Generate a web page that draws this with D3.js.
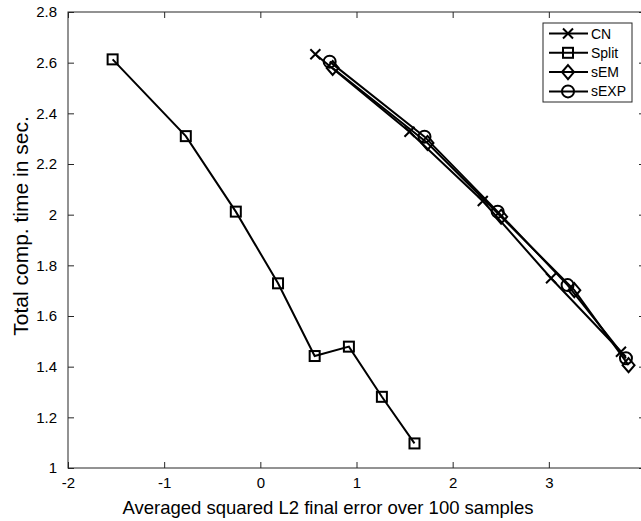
<!DOCTYPE html>
<html>
<head>
<meta charset="utf-8">
<script src="https://cdn.jsdelivr.net/npm/d3@7"></script>
<style>
  body { margin: 0; background: #fff; }
  svg text { font-family: "Liberation Sans", Arial, sans-serif; }
</style>
</head>
<body>
<div id="chart"></div>
<script>
// values
var seriesNames = ["CN", "Split", "sEM", "sEXP"];
var cnX = [0.572, 1.551, 2.313, 3.023, 3.750];
var cnY = [2.633, 2.327, 2.054, 1.749, 1.459];
var splitX = [-1.536, -0.775, -0.255, 0.184, 0.565, 0.921, 1.264, 1.603];
var splitY = [2.613, 2.310, 2.012, 1.729, 1.442, 1.479, 1.281, 1.097];
var semX = [0.752, 1.738, 2.504, 3.265, 3.829];
var semY = [2.579, 2.283, 1.992, 1.702, 1.406];
var sexpX = [0.721, 1.707, 2.468, 3.195, 3.802];
var sexpY = [2.604, 2.308, 2.012, 1.722, 1.433];
var xTicks = [-2, -1, 0, 1, 2, 3, 4];
var yTicks = [1, 1.2, 1.4, 1.6, 1.8, 2, 2.2, 2.4, 2.6, 2.8];

var W = 641, H = 521;
var margin = {top: 12, left: 68, right: -4, bottom: 53};
var pw = W - margin.left - margin.right,
    ph = H - margin.top - margin.bottom;

var svg = d3.select("#chart").append("svg")
    .attr("width", W).attr("height", H);

var x = d3.scaleLinear().domain([-2, 4]).range([0, pw]);
var y = d3.scaleLinear().domain([1, 2.8]).range([ph, 0]);

var g = svg.append("g")
    .attr("transform", "translate(" + margin.left + "," + margin.top + ")");

function zip(xs, ys) { return xs.map(function(v, i) { return [v, ys[i]]; }); }
var markers = ["x", "square", "diamond", "circle"];
var series = [zip(cnX, cnY), zip(splitX, splitY), zip(semX, semY), zip(sexpX, sexpY)]
  .map(function(pts, i) { return {name: seriesNames[i], marker: markers[i], pts: pts}; });

// axes box, ticks inward on all 4 sides like matlab
var axisColor = "#262626";
var tl = 6;
function fmt(d) { return String(d); }
function styleAxis(sel) {
  sel.select(".domain").remove();
  sel.selectAll("line").attr("stroke", axisColor);
  sel.selectAll("text").attr("fill", "#000").style("font-size", "15px");
}
g.append("g").attr("transform", "translate(0," + ph + ")")
  .call(d3.axisBottom(x).tickValues(xTicks).tickSizeInner(-tl).tickSizeOuter(0).tickPadding(9).tickFormat(fmt))
  .call(styleAxis);
g.append("g")
  .call(d3.axisTop(x).tickValues(xTicks).tickSizeInner(-tl).tickSizeOuter(0).tickFormat(""))
  .call(styleAxis);
g.append("g")
  .call(d3.axisLeft(y).tickValues(yTicks).tickSizeInner(-tl).tickSizeOuter(0).tickPadding(11).tickFormat(fmt))
  .call(styleAxis);
g.append("g").attr("transform", "translate(" + pw + ",0)")
  .call(d3.axisRight(y).tickValues(yTicks).tickSizeInner(-tl).tickSizeOuter(0).tickFormat(""))
  .call(styleAxis);
g.append("rect").attr("width", pw).attr("height", ph)
  .attr("fill", "none").attr("stroke", axisColor).attr("stroke-width", 1);

var line = d3.line().x(function(d) { return x(d[0]); }).y(function(d) { return y(d[1]); });

function drawMarker(sel, type) {
  if (type === "x") {
    sel.append("path").attr("d", "M-5,-5L5,5M-5,5L5,-5");
  } else if (type === "square") {
    sel.append("rect").attr("x", -5).attr("y", -5).attr("width", 10).attr("height", 10);
  } else if (type === "diamond") {
    sel.append("path").attr("d", "M0,-7L6,0L0,7L-6,0Z");
  } else {
    sel.append("circle").attr("r", 6);
  }
  sel.selectAll("*").attr("fill", "none").attr("stroke", "#000").attr("stroke-width", 2);
}

series.forEach(function(s) {
  g.append("path").datum(s.pts).attr("d", line)
    .attr("fill", "none").attr("stroke", "#000").attr("stroke-width", 2);
  g.selectAll(null).data(s.pts).enter().append("g")
    .attr("transform", function(d) { return "translate(" + x(d[0]) + "," + y(d[1]) + ")"; })
    .each(function() { drawMarker(d3.select(this), s.marker); });
});

// axis labels
svg.append("text").attr("x", 328).attr("y", 514)
  .attr("text-anchor", "middle").style("font-size", "18.5px")
  .text("Averaged squared L2 final error over 100 samples");
svg.append("text")
  .attr("transform", "translate(28,226) rotate(-90)")
  .attr("text-anchor", "middle").style("font-size", "21px")
  .text("Total comp. time in sec.");

// legend
var leg = svg.append("g").attr("transform", "translate(543,23)");
leg.append("rect").attr("width", 89).attr("height", 79)
  .attr("fill", "#fff").attr("stroke", axisColor).attr("stroke-width", 1);
series.forEach(function(s, i) {
  var row = leg.append("g").attr("transform", "translate(0," + (10.5 + i * 19.3) + ")");
  row.append("line").attr("x1", 6).attr("x2", 45)
    .attr("stroke", "#000").attr("stroke-width", 2);
  var m = row.append("g").attr("transform", "translate(25,0)");
  drawMarker(m, s.marker);
  row.append("text").attr("x", 48).attr("y", 5).style("font-size", "14px").text(s.name);
});
</script>
</body>
</html>
